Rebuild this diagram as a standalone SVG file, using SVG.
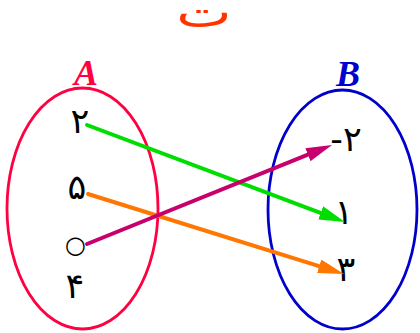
<svg xmlns="http://www.w3.org/2000/svg" width="420" height="333" viewBox="0 0 420 333">
<style>
.num{font-family:"DejaVu Sans",sans-serif;font-size:35px;fill:#000;text-anchor:middle}
.set{font-family:"Liberation Serif",serif;font-style:italic;font-weight:bold;font-size:36px;text-anchor:middle}
.conn{fill:none;stroke-width:4;stroke-linecap:round}
.ell{fill:none;stroke-width:2.8}
</style>
<defs>
<marker id="hg" markerUnits="userSpaceOnUse" markerWidth="26" markerHeight="14" refX="4" refY="7" orient="auto"><path d="M0,0 L26,7 L0,14 z" fill="#00DD00"/></marker>
<marker id="ho" markerUnits="userSpaceOnUse" markerWidth="26" markerHeight="14" refX="4" refY="7" orient="auto"><path d="M0,0 L26,7 L0,14 z" fill="#FF7700"/></marker>
<marker id="hm" markerUnits="userSpaceOnUse" markerWidth="26" markerHeight="14" refX="4" refY="7" orient="auto"><path d="M0,0 L26,7 L0,14 z" fill="#C8006E"/></marker>
</defs>
<text x="0" y="0" transform="translate(204,27) scale(1.4,1)" font-family="DejaVu Sans, sans-serif" font-size="42" fill="#FF3300" text-anchor="middle">ت</text>
<g id="setA">
<ellipse class="ell" cx="82.5" cy="208.5" rx="75.5" ry="120.5" stroke="#FF0040"/>
<text class="set" x="86" y="85" fill="#FF0040">A</text>
<text class="num" x="80" y="133">۲</text>
<text class="num" x="77" y="199">۵</text>
<text class="num" x="75.5" y="253" style="font-size:24px">○</text>
<text class="num" x="75" y="298">۴</text>
</g>
<g id="setB">
<ellipse class="ell" cx="342.5" cy="209.5" rx="74.5" ry="119.5" stroke="#0000CC"/>
<text class="set" x="348" y="86" fill="#0000CC">B</text>
<text class="num" x="346" y="151">-۲</text>
<text class="num" x="344" y="224">۱</text>
<text class="num" x="346" y="281">۳</text>
</g>
<g id="connectors">
<line class="conn" x1="88" y1="194" x2="323" y2="267.4" stroke="#FF7700" marker-end="url(#ho)"/>
<line class="conn" x1="87" y1="125" x2="324.4" y2="214.3" stroke="#00DD00" marker-end="url(#hg)"/>
<line class="conn" x1="87" y1="244" x2="311.6" y2="153.2" stroke="#C8006E" marker-end="url(#hm)"/>
</g>
</svg>
